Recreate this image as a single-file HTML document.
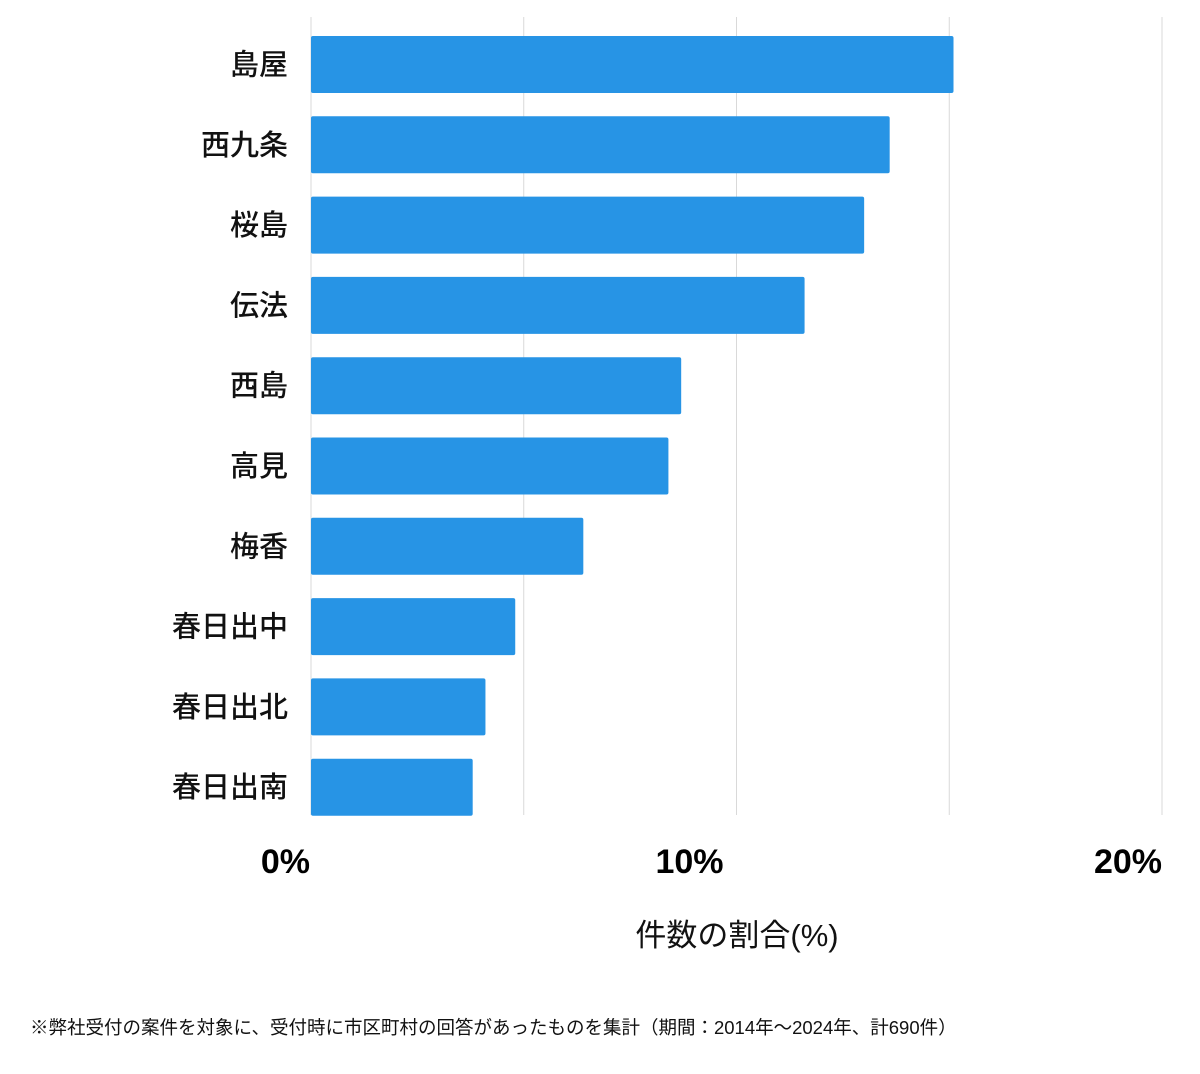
<!DOCTYPE html>
<html><head><meta charset="utf-8"><style>
body{margin:0;background:#fff;width:1200px;height:1069px;overflow:hidden;font-family:"Liberation Sans","Noto Sans CJK JP",sans-serif;}
</style></head><body>
<svg width="1200" height="1069" id="chart" xmlns="http://www.w3.org/2000/svg"></svg>
<script>
const categories=["島屋","西九条","桜島","伝法","西島","高見","梅香","春日出中","春日出北","春日出南"];
const values=[15.1,13.6,13.0,11.6,8.7,8.4,6.4,4.8,4.1,3.8];
const gridTicks=[0,5,10,15,20];
const tickLabels=[{v:0,t:"0%",a:"end",dx:0},{v:10,t:"10%",a:"middle",dx:-47},{v:20,t:"20%",a:"end",dx:0}];
const NS="http://www.w3.org/2000/svg";
const svg=document.getElementById('chart');
const x0=311,x1=1162,xmax=20;
const xs=v=>x0+(x1-x0)*v/xmax;
const rowTop=36,pitch=80.3,bh=57;
function mk(tag,attrs,text){const e=document.createElementNS(NS,tag);for(const k in attrs)e.setAttribute(k,attrs[k]);if(text!==undefined)e.textContent=text;svg.appendChild(e);return e;}
gridTicks.forEach((v,i)=>{const l=mk('line',{x1:xs(v),x2:xs(v),y1:17,y2:815,stroke:'#d9d9d9','stroke-width':1});

});
categories.forEach((c,i)=>{const y=rowTop+i*pitch;
const r=mk('rect',{x:x0,y:y,width:xs(values[i])-x0,height:bh,fill:'#2794e5',rx:2});


const t=mk('text',{x:288,y:y+bh/2+10,'text-anchor':'end','font-size':29,'font-weight':'500',fill:'#111'},c);

});
tickLabels.forEach(o=>{const t=mk('text',{x:(o.v===0?310:xs(o.v))+o.dx,y:873,'text-anchor':o.a,'font-size':34,'font-weight':'bold',fill:'#000'},o.t);

});
const at=mk('text',{x:737,y:946,'text-anchor':'middle','font-size':31,fill:'#111'},"件数の割合(%)");


const fn=mk('text',{x:30,y:1034,'font-size':18.5,fill:'#111'},"※弊社受付の案件を対象に、受付時に市区町村の回答があったものを集計（期間：2014年〜2024年、計690件）");


</script>
</body></html>
